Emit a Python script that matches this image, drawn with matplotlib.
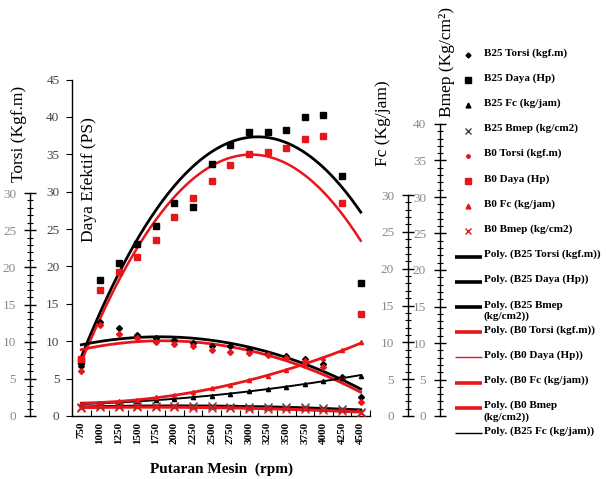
import numpy as np
import matplotlib
matplotlib.use("Agg")
import matplotlib.pyplot as plt
from matplotlib.ticker import MultipleLocator, FixedLocator

plt.rcParams['font.family'] = ['Liberation Serif', 'DejaVu Serif']

# ---------------- data ----------------
rpm = [750, 1000, 1250, 1500, 1750, 2000, 2250, 2500, 2750, 3000,
       3250, 3500, 3750, 4000, 4250, 4500]
b25_torsi = [6.7, 12.6, 11.8, 10.8, 10.4, 10.2, 9.8, 9.4, 9.3, 9.0, 8.3, 8.0, 7.6, 7.0, 5.2, 2.6]
b0_torsi = [6.0, 12.2, 11.0, 10.4, 9.9, 9.6, 9.3, 8.8, 8.6, 8.4, 8.1, 7.7, 7.3, 6.6, 4.9, 1.9]
b25_daya = [7.3, 18.2, 20.5, 23.0, 25.4, 28.5, 28.0, 33.7, 36.3, 38.0, 38.0, 38.3, 40.0, 40.2, 32.1, 17.8]
b0_daya = [7.6, 16.9, 19.2, 21.2, 23.5, 26.6, 29.2, 31.4, 33.6, 35.1, 35.3, 35.9, 37.1, 37.4, 28.5, 13.6]
b25_fc = [1.6, 1.7, 1.8, 2.0, 2.1, 2.3, 2.5, 2.7, 3.0, 3.3, 3.6, 3.9, 4.3, 4.7, 5.1, 5.4]
b0_fc = [1.6, 1.8, 2.0, 2.2, 2.5, 2.8, 3.2, 3.7, 4.2, 4.8, 5.4, 6.1, 6.8, 7.7, 8.8, 9.9]
b25_bmep = [1.2, 1.3, 1.3, 1.3, 1.3, 1.3, 1.3, 1.3, 1.25, 1.25, 1.2, 1.2, 1.15, 1.1, 1.0, 0.6]
b0_bmep = [1.1, 1.2, 1.2, 1.2, 1.2, 1.15, 1.1, 1.1, 1.05, 1.0, 1.0, 0.95, 0.9, 0.8, 0.7, 0.4]

legend_labels = ["B25 Torsi (kgf.m)", "B25 Daya (Hp)", "B25 Fc (kg/jam)", "B25 Bmep (kg/cm2)",
                 "B0 Torsi (kgf.m)", "B0 Daya (Hp)", "B0 Fc (kg/jam)", "B0 Bmep (kg/cm2)",
                 "Poly. (B25 Torsi (kgf.m))", "Poly. (B25 Daya (Hp))", "Poly. (B25 Bmep\n(kg/cm2))",
                 "Poly. (B0 Torsi (kgf.m))", "Poly. (B0 Daya (Hp))", "Poly. (B0 Fc (kg/jam))",
                 "Poly. (B0 Bmep\n(kg/cm2))", "Poly. (B25 Fc (kg/jam))"]

RED = '#e8161b'
BLK = '#000000'
W, H = 606, 479

fig = plt.figure(figsize=(W / 100, H / 100), dpi=100)

def rect(left, top, right, bottom):
    return [left / W, 1 - bottom / H, (right - left) / W, (bottom - top) / H]

# ---------------- main axes ----------------
y0 = 416
ax = fig.add_axes(rect(72, 79.5, 370, y0))
x = np.arange(len(rpm))
ax.set_xlim(-0.5, len(rpm) - 0.5)
ax.set_ylim(0, 45)
for s in ['top', 'right']:
    ax.spines[s].set_visible(False)
ax.spines['left'].set_linewidth(1.0)
ax.spines['bottom'].set_linewidth(1.0)
ax.yaxis.set_major_locator(MultipleLocator(5))
ax.tick_params(axis='y', direction='out', length=4, width=0.8, labelsize=9.5,
               labelcolor='#444444', pad=5)
ax.set_xticks(x)
ax.set_xticklabels([str(r) for r in rpm], rotation=90, fontsize=8, fontweight='bold')
ax.tick_params(axis='x', length=0, pad=4)
ax.xaxis.set_minor_locator(FixedLocator(np.arange(-0.5, len(rpm), 1.0)))
ax.tick_params(axis='x', which='minor', direction='in', length=4, width=0.8)

xf = np.linspace(0, len(rpm) - 1, 200)

def poly(vals, color, lw):
    c = np.polyfit(x, vals, 2)
    ax.plot(xf, np.polyval(c, xf), color=color, lw=lw, zorder=2)

# trendlines
poly(b25_daya, BLK, 2.0)
poly(b0_daya, RED, 1.8)
poly(b25_torsi, BLK, 2.0)
poly(b0_torsi, RED, 2.0)
poly(b25_fc, BLK, 1.4)
poly(b0_fc, RED, 2.0)
poly(b25_bmep, BLK, 2.2)
poly(b0_bmep, RED, 2.2)

# markers
ax.plot(x, b25_daya, 's', color=BLK, ms=4.3, zorder=3)
ax.plot(x, b0_daya, 's', color=RED, ms=4.3, zorder=3)
ax.plot(x, b25_torsi, 'D', color=BLK, ms=3.0, zorder=3)
ax.plot(x, b0_torsi, 'D', color=RED, ms=3.0, zorder=3)
ax.plot(x, b25_fc, '^', color=BLK, ms=3.0, zorder=3)
ax.plot(x, b0_fc, '^', color=RED, ms=3.0, zorder=3)
ax.plot(x, b25_bmep, 'x', color='#444444', ms=5.5, mew=1.0, zorder=3)
ax.plot(x, b0_bmep, 'x', color=RED, ms=5.5, mew=1.0, zorder=3)

# ---------------- decorative extra axes ----------------
def side_axis(xpix, top, ymax, label_color='#8a8a8a'):
    a = fig.add_axes(rect(xpix, top, xpix + 1, y0))
    a.patch.set_visible(False)
    for s in ['top', 'right', 'bottom']:
        a.spines[s].set_visible(False)
    a.spines['left'].set_linewidth(1.0)
    a.set_xticks([])
    a.set_ylim(0, ymax)
    a.yaxis.set_major_locator(MultipleLocator(5))
    a.yaxis.set_minor_locator(MultipleLocator(1))
    a.tick_params(axis='y', which='major', direction='inout', length=8, width=1.0,
                  labelsize=9.5, labelcolor=label_color, pad=6)
    a.tick_params(axis='y', which='minor', direction='inout', length=5, width=0.8)
    return a

side_axis(30, 193, 30)
side_axis(408, 195, 30)
side_axis(440, 124, 40)

# ---------------- titles ----------------
fig.text(19 / W, 1 - 134 / H, 'Torsi (Kgf.m)', rotation=90, ha='center', va='center', fontsize=12.5)
fig.text(89 / W, 1 - 180 / H, 'Daya Efektif (PS)', rotation=90, ha='center', va='center', fontsize=12.5)
fig.text(383 / W, 1 - 123 / H, 'Fc (Kg/jam)', rotation=90, ha='center', va='center', fontsize=12.5)
fig.text(447 / W, 1 - 62 / H, 'Bmep (Kg/cm\u00b2)', rotation=90, ha='center', va='center', fontsize=12.5)
fig.text(222 / W, 1 - 469 / H, 'Putaran Mesin  (rpm)', ha='center', va='center',
         fontsize=11, fontweight='bold')

# ---------------- legend (drawn manually) ----------------
lax = fig.add_axes([0, 0, 1, 1])
lax.set_xlim(0, W)
lax.set_ylim(H, 0)
lax.axis('off')
lax.patch.set_visible(False)

styles = [
    ('D', BLK, 2.5), ('s', BLK, 4.5), ('^', BLK, 3.5), ('x', '#444444', 4.5),
    ('o', RED, 2.5), ('s', RED, 4.5), ('^', RED, 3.5), ('x', RED, 4.5),
    ('-', BLK, 2.6), ('-', BLK, 2.6), ('-', BLK, 2.6),
    ('-', RED, 2.6), ('-', RED, 1.0), ('-', RED, 2.6), ('-', RED, 2.6), ('-', BLK, 1.0),
]
for k, (lab, st) in enumerate(zip(legend_labels, styles)):
    yy = 55 + 25.2 * k
    m, col, sz = st
    if m == '-':
        lax.plot([455, 482], [yy, yy], color=col, lw=sz, solid_capstyle='butt')
    else:
        lax.plot([468], [yy], m, color=col, ms=sz, mew=1.0)
    lax.text(484, yy - 7, lab, ha='left', va='top', fontsize=8, fontweight='bold',
             linespacing=1.25)

fig.savefig('out.png', dpi=100)
